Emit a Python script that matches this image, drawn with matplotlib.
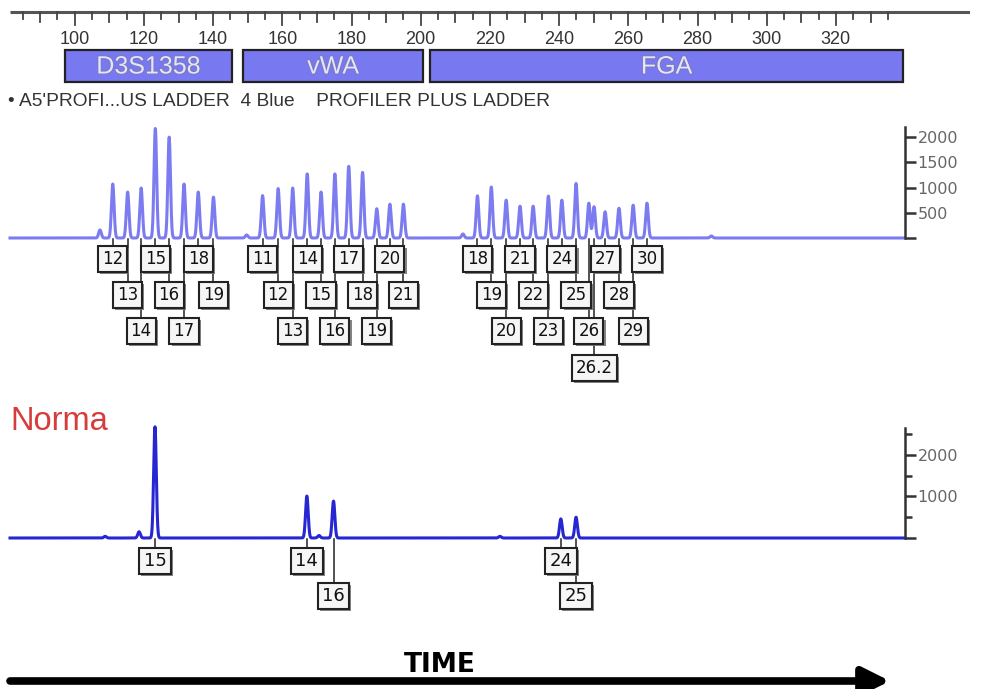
import numpy as np
import matplotlib
matplotlib.use("Agg")
import matplotlib.pyplot as plt
from matplotlib import transforms, patheffects
from matplotlib.patches import Rectangle

# ---------------- data ----------------
ruler_labels = [100, 120, 140, 160, 180, 200, 220, 240, 260, 280, 300, 320]

loci_names = ["D3S1358", "vWA", "FGA"]
loci_start = [97.2, 148.7, 202.7]
loci_end = [145.5, 200.7, 339.4]

header_text = "\u2022 A5'PROFI...US LADDER  4 Blue    PROFILER PLUS LADDER"

# ladder peaks (size in bp, height in RFU, allele label)
d3_alleles = ["12", "13", "14", "15", "16", "17", "18", "19"]
d3_size = [111.0, 115.3, 119.2, 123.3, 127.3, 131.6, 135.7, 140.1]
d3_height = [1070, 910, 990, 2170, 2000, 1070, 910, 810]

vwa_alleles = ["11", "12", "13", "14", "15", "16", "17", "18", "19", "20", "21"]
vwa_size = [154.3, 158.8, 163.0, 167.2, 171.2, 175.2, 179.2, 183.2, 187.3, 191.1, 195.0]
vwa_height = [840, 980, 990, 1270, 910, 1270, 1420, 1300, 580, 670, 670]

fga_alleles = ["18", "19", "20", "21", "22", "23", "24", "25", "26", "26.2", "27", "28", "29", "30"]
fga_size = [216.4, 220.4, 224.7, 228.7, 232.5, 236.9, 240.8, 244.9, 248.6, 250.1, 253.3, 257.3, 261.4, 265.4]
fga_height = [835, 1010, 750, 630, 630, 830, 750, 1080, 690, 620, 520, 590, 650, 690]

ladder_minor_size = [107.3, 149.7, 212.2, 284.0]
ladder_minor_height = [160, 60, 80, 40]

# sample "Norma"
sample_alleles = ["15", "14", "16", "24", "25"]
sample_size = [123.2, 167.1, 174.8, 240.5, 244.9]
sample_height = [2680, 1010, 890, 460, 500]
sample_minor_size = [108.8, 118.6, 170.6, 222.9]
sample_minor_height = [40, 150, 60, 40]

ladder_yticks = [500, 1000, 1500, 2000]
sample_yticks = [1000, 2000]

# ---------------- layout helpers ----------------
W, H = 981, 689
PX100 = 74.7      # pixel of 100 bp
PXPB = 3.46       # pixels per bp


def bp_at(px):
    return 100 + (px - PX100) / PXPB


def add_ax(px_l, px_r, py_t, py_b):
    return fig.add_axes([px_l / W, 1 - py_b / H, (px_r - px_l) / W, (py_b - py_t) / H])


ARIAL = ["Liberation Sans", "DejaVu Sans"]

fig = plt.figure(figsize=(W / 100, H / 100), dpi=100)
fig.patch.set_facecolor("white")

# ---------------- ruler + locus bars ----------------
hx_l, hx_r = 10, 970
hax = add_ax(hx_l, hx_r, 0, 110)
hax.set_xlim(bp_at(hx_l), bp_at(hx_r))
hax.set_ylim(110, 0)
hax.axis("off")
hax.plot([bp_at(hx_l), bp_at(hx_r)], [12, 12], color="#555555", lw=2.2, solid_capstyle="butt")
minor = np.arange(85, 336, 5)
for t in minor:
    if t % 20 == 0:
        ln = 25
    elif t % 10 == 0:
        ln = 22
    else:
        ln = 19
    hax.plot([t, t], [12, ln], color="#444444", lw=1.3)
for lab in ruler_labels:
    hax.text(lab, 39, str(lab), ha="center", va="center", fontsize=13,
             color="#333333", family=ARIAL)

for name, s, e in zip(loci_names, loci_start, loci_end):
    hax.add_patch(Rectangle((s, 50), e - s, 32, facecolor="#7878f0",
                            edgecolor="#222222", lw=1.6))
    hax.text((s + e) / 2, 66.5, name, ha="center", va="center", fontsize=18,
             color="#e4e4ff", family=ARIAL,
             path_effects=[patheffects.withStroke(linewidth=1.4, foreground="#7a7ab8")])

hax.text(bp_at(8), 101, header_text, ha="left", va="center", fontsize=13.8,
         color="#333333", family=ARIAL)

# ---------------- traces ----------------
ax_l, ax_r = 10, 905
xs = np.arange(bp_at(ax_l), bp_at(ax_r), 0.03)


def trace(sizes, heights, sigma=0.38):
    y = np.zeros_like(xs)
    for p, h in zip(sizes, heights):
        y += h * np.exp(-0.5 * ((xs - p) / sigma) ** 2)
    return y


def style_axis(ax, ymax, majors, minors):
    ax.set_xlim(bp_at(ax_l), bp_at(ax_r))
    ax.set_ylim(0, ymax)
    for sp in ["left", "top", "bottom"]:
        ax.spines[sp].set_visible(False)
    ax.spines["right"].set_color("#333333")
    ax.spines["right"].set_linewidth(1.8)
    ax.set_xticks([])
    ax.yaxis.tick_right()
    ax.set_yticks([0] + majors)
    ax.set_yticklabels([""] + [str(v) for v in majors])
    ax.set_yticks(minors, minor=True)
    ax.tick_params(axis="y", which="major", direction="out", length=8, width=1.8,
                   color="#333333", labelsize=11.5, labelcolor="#666666", pad=1)
    ax.tick_params(axis="y", which="minor", direction="out", length=5, width=1.8,
                   color="#333333")
    ax.patch.set_alpha(0)


def label_box(ax, x, yfig, text, fs):
    tr = transforms.blended_transform_factory(ax.transData, fig.transFigure)
    t = ax.text(x, yfig, text, transform=tr, ha="center", va="center",
                fontsize=fs, color="#111111", clip_on=False, fontweight="medium",
                bbox=dict(boxstyle="square,pad=0.24", facecolor="#f6f6f6",
                          edgecolor="#222222", lw=1.5))
    t.get_bbox_patch().set_path_effects([
        patheffects.SimplePatchShadow(offset=(1.5, -1.5), shadow_rgbFace="#777777", alpha=0.9),
        patheffects.Normal()])


def connector(ax, x, py_from, py_to):
    tr = transforms.blended_transform_factory(ax.transData, fig.transFigure)
    ax.plot([x, x], [1 - py_from / H, 1 - py_to / H], transform=tr, color="#222222",
            lw=1.1, clip_on=False)


# ladder
lax = add_ax(ax_l, ax_r, 127, 238)
style_axis(lax, 2200, ladder_yticks, [])
all_sizes = d3_size + vwa_size + fga_size + ladder_minor_size
all_heights = d3_height + vwa_height + fga_height + ladder_minor_height
lax.plot(xs, trace(all_sizes, all_heights), color="#7c7cf0", lw=2.2, clip_on=False)

row_y = [259, 295, 331, 368]
for alleles, sizes in [(d3_alleles, d3_size), (vwa_alleles, vwa_size), (fga_alleles, fga_size)]:
    r = 0
    for a, s in zip(alleles, sizes):
        row = 3 if a == "26.2" else r
        connector(lax, s, 239, row_y[row] - 13)
        label_box(lax, s, 1 - row_y[row] / H, a, 12)
        if a != "26.2":
            r = (r + 1) % 3

# sample
fig.text(10 / W, 1 - 421 / H, "Norma", fontsize=23.5, color="#d63c3c",
         family=ARIAL, ha="left", va="center")
sax = add_ax(ax_l, ax_r, 428, 538)
style_axis(sax, 2650, sample_yticks, [500, 1500, 2500])
sax.plot(xs, trace(sample_size + sample_minor_size, sample_height + sample_minor_height),
         color="#2626d2", lw=2.2, clip_on=False)
sample_rows = [0, 0, 1, 0, 1]
srow_y = [561, 596]
for a, s, r in zip(sample_alleles, sample_size, sample_rows):
    connector(sax, s, 539, srow_y[r] - 14)
    label_box(sax, s, 1 - srow_y[r] / H, a, 13)

# ---------------- TIME arrow ----------------
oax = fig.add_axes([0, 0, 1, 1])
oax.set_xlim(0, W)
oax.set_ylim(H, 0)
oax.axis("off")
oax.patch.set_alpha(0)
oax.annotate("", xy=(890, 681), xytext=(10, 681),
             arrowprops=dict(arrowstyle="-|>,head_length=0.9,head_width=0.45",
                             lw=5.5, color="black", mutation_scale=18, shrinkA=0, shrinkB=0))
oax.text(440, 665, "TIME", fontsize=19, fontweight="bold", ha="center", va="center",
         color="black")

fig.savefig("out.png", dpi=100, facecolor="white")
